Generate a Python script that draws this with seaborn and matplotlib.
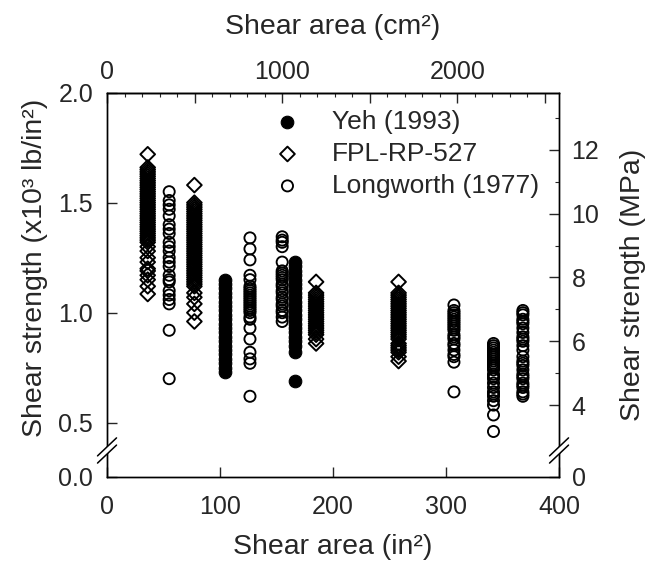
import numpy as np
import pandas as pd
import matplotlib
matplotlib.use("Agg")
import matplotlib.pyplot as plt
from matplotlib.patches import Polygon
from matplotlib.ticker import FixedLocator, FixedFormatter
import seaborn as sns

# ---------------- data ----------------
sources = ["Yeh (1993)", "FPL-RP-527", "Longworth (1977)"]

# Yeh (1993) -- shear area (in^2) and shear strength (x10^3 lb/in^2)
yeh_areas = [104.5, 166]
yeh_105 = [1.15, 1.13, 1.11, 1.09, 1.07, 1.05, 1.03, 1.01, 0.99, 0.97, 0.95,
           0.93, 0.91, 0.89, 0.87, 0.85, 0.83, 0.81, 0.79, 0.77, 0.75, 0.73]
yeh_166 = [1.23, 1.21, 1.19, 1.17, 1.15, 1.13, 1.11, 1.09, 1.07, 1.05, 1.03,
           1.01, 0.99, 0.97, 0.95, 0.93, 0.91, 0.89, 0.87, 0.85, 0.82, 0.69]
yeh_strengths = [yeh_105, yeh_166]

# FPL-RP-527
fpl_areas = [36, 77.3, 185, 258]
fpl_36 = [1.72, 1.66, 1.65, 1.64, 1.63, 1.62, 1.61, 1.60, 1.59, 1.58, 1.57,
          1.56, 1.55, 1.54, 1.53, 1.52, 1.51, 1.50, 1.49, 1.48, 1.47, 1.46,
          1.45, 1.44, 1.43, 1.42, 1.41, 1.40, 1.39, 1.38, 1.37, 1.36, 1.35,
          1.34, 1.33, 1.32, 1.30, 1.28, 1.25, 1.23, 1.20, 1.19, 1.17, 1.15,
          1.12, 1.085]
fpl_77 = [1.58, 1.50, 1.49, 1.48, 1.47, 1.46, 1.45, 1.44, 1.43, 1.42, 1.41,
          1.40, 1.39, 1.38, 1.37, 1.36, 1.35, 1.34, 1.33, 1.32, 1.31, 1.30,
          1.29, 1.28, 1.27, 1.26, 1.25, 1.24, 1.23, 1.22, 1.21, 1.20, 1.19,
          1.18, 1.17, 1.16, 1.15, 1.14, 1.13, 1.12, 1.09, 1.07, 1.04, 1.00,
          0.96]
fpl_185 = [1.14, 1.09, 1.08, 1.07, 1.06, 1.05, 1.04, 1.03, 1.02, 1.01, 1.00,
           0.99, 0.98, 0.97, 0.96, 0.95, 0.94, 0.93, 0.92, 0.91, 0.90, 0.88,
           0.86]
fpl_258 = [1.14, 1.09, 1.08, 1.07, 1.06, 1.05, 1.04, 1.03, 1.02, 1.01, 1.00,
           0.99, 0.98, 0.97, 0.96, 0.95, 0.94, 0.93, 0.92, 0.91, 0.90, 0.89,
           0.88, 0.86, 0.85, 0.84, 0.83, 0.82, 0.80, 0.78]
fpl_strengths = [fpl_36, fpl_77, fpl_185, fpl_258]

# Longworth (1977)
lw_areas = [55, 126.5, 155, 307, 342, 368]
lw_55 = [1.55, 1.51, 1.49, 1.47, 1.44, 1.40, 1.38, 1.36, 1.32, 1.30, 1.28,
         1.25, 1.23, 1.21, 1.17, 1.15, 1.14, 1.10, 1.08, 1.06, 1.04, 0.92,
         0.70]
lw_126 = [1.34, 1.29, 1.24, 1.17, 1.15, 1.12, 1.11, 1.10, 1.09, 1.08, 1.07,
          1.06, 1.05, 1.04, 1.03, 1.02, 1.01, 1.00, 0.98, 0.97, 0.93, 0.88,
          0.82, 0.79, 0.77, 0.62]
lw_155 = [1.345, 1.33, 1.32, 1.30, 1.23, 1.19, 1.18, 1.17, 1.16, 1.15, 1.13,
          1.12, 1.10, 1.09, 1.07, 1.06, 1.04, 1.03, 1.01, 1.00, 0.98, 0.96]
lw_307 = [1.035, 1.01, 1.00, 0.99, 0.98, 0.97, 0.96, 0.95, 0.94, 0.93, 0.92,
          0.90, 0.89, 0.88, 0.86, 0.85, 0.83, 0.81, 0.80, 0.775, 0.64]
lw_342 = [0.86, 0.85, 0.84, 0.83, 0.82, 0.81, 0.80, 0.79, 0.78, 0.77, 0.76,
          0.75, 0.74, 0.72, 0.71, 0.70, 0.68, 0.66, 0.64, 0.63, 0.62, 0.60,
          0.58, 0.535, 0.46]
lw_368 = [1.01, 1.00, 0.99, 0.97, 0.96, 0.95, 0.93, 0.91, 0.89, 0.88, 0.87,
          0.85, 0.83, 0.80, 0.78, 0.77, 0.76, 0.74, 0.72, 0.71, 0.70, 0.68,
          0.67, 0.66, 0.64, 0.63, 0.62]
lw_strengths = [lw_55, lw_126, lw_155, lw_307, lw_342, lw_368]

x_ticks = [0, 100, 200, 300, 400]
y_ticks = [0.0, 0.5, 1.0, 1.5, 2.0]
y_tick_labels = ["0.0", "0.5", "1.0", "1.5", "2.0"]
mpa_ticks = [0, 4, 6, 8, 10, 12]
mpa_minor = [5, 7, 9, 11, 13]
cm2_ticks = [0, 500, 1000, 1500, 2000, 2500]
cm2_labels = ["0", "", "1000", "", "2000", ""]

IN2_TO_CM2 = 6.4516
KSI_TO_MPA = 6.895

rows = []
for src, areas, groups in zip(sources,
                              [yeh_areas, fpl_areas, lw_areas],
                              [yeh_strengths, fpl_strengths, lw_strengths]):
    for a, vals in zip(areas, groups):
        for v in vals:
            rows.append({"area": a, "strength": v, "source": src})
df = pd.DataFrame(rows)

# ---------------- broken-axis scale ----------------
B = 0.40      # break value
Z = 0.2545    # where 0 is placed (in linear-equivalent units)


def fwd(y):
    y = np.asarray(y, dtype=float)
    return np.where(y >= B, y, Z + y * (B - Z) / B)


def inv(u):
    u = np.asarray(u, dtype=float)
    return np.where(u >= B, u, (u - Z) * B / (B - Z))


def fwd_mpa(m):
    return fwd(np.asarray(m, dtype=float) / KSI_TO_MPA)


def inv_mpa(u):
    return inv(u) * KSI_TO_MPA


# ---------------- figure ----------------
sns.set_style("ticks")
plt.rcParams["font.family"] = ["Liberation Sans", "DejaVu Sans"]
FS = 18      # tick labels
LFS = 20.5   # axis titles
GFS = 19     # legend

fig = plt.figure(figsize=(6.55, 5.67), dpi=100)
ax = fig.add_axes([0.1634, 0.1593, 0.6901, 0.6772])

sns.scatterplot(data=df[df.source == sources[2]], x="area", y="strength",
                marker="o", s=64, facecolor="none", edgecolor="black",
                linewidth=1.35, ax=ax, label=sources[2], zorder=3)
sns.scatterplot(data=df[df.source == sources[1]], x="area", y="strength",
                marker="D", s=56, facecolor="none", edgecolor="black",
                linewidth=1.4, ax=ax, label=sources[1], zorder=4)
sns.scatterplot(data=df[df.source == sources[0]], x="area", y="strength",
                marker="o", s=82, facecolor="black", edgecolor="black",
                linewidth=0.8, ax=ax, label=sources[0], zorder=5)

ax.set_yscale("function", functions=(fwd, inv))
ax.set_xlim(0, 400)
ax.set_ylim(0, 2.0)
ax.xaxis.set_major_locator(FixedLocator(x_ticks))
ax.yaxis.set_major_locator(FixedLocator(y_ticks))
ax.yaxis.set_major_formatter(FixedFormatter(y_tick_labels))
ax.yaxis.set_minor_locator(FixedLocator([]))
ax.tick_params(axis="x", direction="in", length=7, width=1, labelsize=FS,
               pad=13, top=False)
ax.tick_params(axis="y", direction="in", length=7, width=1, labelsize=FS,
               pad=10, right=False)
for sp in ax.spines.values():
    sp.set_linewidth(1.0)
    sp.set_color("black")

ax.set_xlabel("Shear area (in²)", fontsize=LFS)
ax.xaxis.set_label_coords(0.5, -0.15)
ax.set_ylabel("Shear strength (x10³ lb/in²)", fontsize=LFS)
ax.yaxis.set_label_coords(-0.13, 0.545)

# legend
h, l = ax.get_legend_handles_labels()
order = [l.index(s) for s in sources]
leg = ax.legend([h[i] for i in order], [l[i] for i in order],
                loc="upper left", bbox_to_anchor=(0.37, 0.955),
                frameon=False, fontsize=GFS, handlelength=1.0,
                handletextpad=1.2, labelspacing=0.3, borderpad=0,
                borderaxespad=0)

# top axis (cm^2)
secx = ax.secondary_xaxis("top", functions=(lambda x: x * IN2_TO_CM2,
                                            lambda c: c / IN2_TO_CM2))
secx.xaxis.set_major_locator(FixedLocator(cm2_ticks))
secx.xaxis.set_major_formatter(FixedFormatter(cm2_labels))
secx.xaxis.set_minor_locator(FixedLocator(list(range(100, 2600, 100))))
secx.tick_params(axis="x", which="major", direction="in", length=7, width=1,
                 labelsize=FS, pad=6)
secx.tick_params(axis="x", which="minor", direction="in", length=3, width=0.8)
secx.spines["top"].set_linewidth(1.0)
secx.set_xlabel("Shear area (cm²)", fontsize=LFS)
secx.xaxis.set_label_coords(0.5, 1.152, transform=ax.transAxes)

# right axis (MPa)
ax2 = ax.twinx()
ax2.set_yscale("function", functions=(fwd_mpa, inv_mpa))
ax2.set_ylim(0, 2.0 * KSI_TO_MPA)
ax2.yaxis.set_major_locator(FixedLocator(mpa_ticks))
ax2.yaxis.set_major_formatter(FixedFormatter([str(t) for t in mpa_ticks]))
ax2.yaxis.set_minor_locator(FixedLocator(mpa_minor))
ax2.tick_params(axis="y", which="major", direction="in", length=7, width=1,
                labelsize=FS, pad=9)
ax2.tick_params(axis="y", which="minor", direction="in", length=3, width=0.8)
ax2.set_ylabel("Shear strength (MPa)", fontsize=LFS)
ax2.yaxis.set_label_coords(1.135, 0.5)
for sp in ax2.spines.values():
    sp.set_linewidth(1.0)
    sp.set_color("black")

# axis break marks (on the top-most axes so they cover both spines)
fig.canvas.draw()
bb = ax.get_position()
W = bb.width * fig.get_figwidth() * fig.dpi
H = bb.height * fig.get_figheight() * fig.dpi
yc = (476.7 - 450.5) / 384.0
dx, dy, gap = 9.5 / W, 9.0 / H, 3.6 / H
for xf in (0.0, 1.0):
    poly = Polygon([(xf - dx, yc - gap - dy), (xf + dx, yc - gap + dy),
                    (xf + dx, yc + gap + dy), (xf - dx, yc + gap - dy)],
                   closed=True, transform=ax2.transAxes, facecolor="white",
                   edgecolor="none", clip_on=False, zorder=20)
    ax2.add_patch(poly)
    for s in (-gap, gap):
        ax2.plot([xf - dx, xf + dx], [yc + s - dy, yc + s + dy],
                 transform=ax2.transAxes, color="black", lw=1.1,
                 clip_on=False, zorder=21)

fig.savefig("out.png", dpi=100)
